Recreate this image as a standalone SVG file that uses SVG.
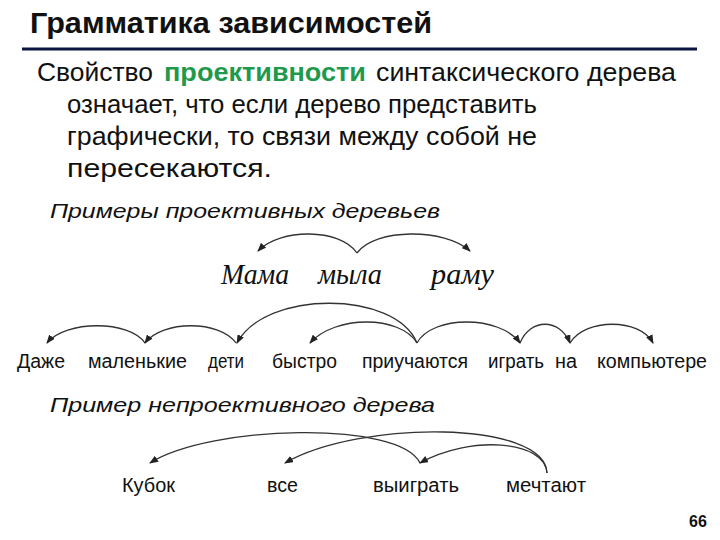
<svg xmlns="http://www.w3.org/2000/svg" width="720" height="540" viewBox="0 0 720 540">
<defs>
<style>
.t{font-family:"Liberation Sans",Arial,sans-serif;fill:#111}
.title{font-size:30px;font-weight:bold}
.para{font-size:25px}
.green{fill:#1f9a4c;font-weight:bold}
.ital{font-size:21px;font-style:italic}
.ser{font-family:"Liberation Serif","Times New Roman",serif;font-style:italic;font-size:30px;fill:#111}
.w{font-size:20px}
.arc{fill:none;stroke:#333;stroke-width:1.3;marker-end:url(#ah)}
</style>
<marker id="ah" markerUnits="userSpaceOnUse" markerWidth="9" markerHeight="7" refX="8" refY="3.5" orient="auto">
<path d="M0,0 L9,3.5 L0,7 z" fill="#222"/>
</marker>
</defs>
<rect width="720" height="540" fill="#fff"/>
<g id="header">
<text class="t title" x="30" y="33" textLength="402" lengthAdjust="spacingAndGlyphs">Грамматика зависимостей</text>
<line x1="22" y1="49" x2="697" y2="49" stroke="#0b1640" stroke-width="3"/>
</g>
<g id="paragraph">
<text class="t para" x="37" y="81" textLength="116" lengthAdjust="spacingAndGlyphs">Свойство</text>
<text class="t para green" x="164" y="81" textLength="202" lengthAdjust="spacingAndGlyphs">проективности</text>
<text class="t para" x="376" y="81" textLength="300" lengthAdjust="spacingAndGlyphs">синтаксического дерева</text>
<text class="t para" x="67" y="113" textLength="470" lengthAdjust="spacingAndGlyphs">означает, что если дерево представить</text>
<text class="t para" x="67" y="145" textLength="470" lengthAdjust="spacingAndGlyphs">графически, то связи между собой не</text>
<text class="t para" x="67" y="177" textLength="205" lengthAdjust="spacingAndGlyphs">пересекаются.</text>
</g>
<g id="heading-projective">
<text class="t ital" x="50" y="218" textLength="390" lengthAdjust="spacingAndGlyphs">Примеры проективных деревьев</text>
</g>
<g id="tree1">
<text class="ser" x="221" y="284" textLength="68" lengthAdjust="spacingAndGlyphs">Мама</text>
<text class="ser" x="318" y="284" textLength="64" lengthAdjust="spacingAndGlyphs">мыла</text>
<text class="ser" x="431" y="284" textLength="63" lengthAdjust="spacingAndGlyphs">раму</text>
</g>
<g id="tree2">
<text class="t w" x="17" y="368" textLength="48" lengthAdjust="spacingAndGlyphs">Даже</text>
<text class="t w" x="88" y="368" textLength="99" lengthAdjust="spacingAndGlyphs">маленькие</text>
<text class="t w" x="208" y="368" textLength="36" lengthAdjust="spacingAndGlyphs">дети</text>
<text class="t w" x="272" y="368" textLength="65" lengthAdjust="spacingAndGlyphs">быстро</text>
<text class="t w" x="362" y="368" textLength="106" lengthAdjust="spacingAndGlyphs">приучаются</text>
<text class="t w" x="488" y="368" textLength="56" lengthAdjust="spacingAndGlyphs">играть</text>
<text class="t w" x="555" y="368" textLength="22" lengthAdjust="spacingAndGlyphs">на</text>
<text class="t w" x="597" y="368" textLength="110" lengthAdjust="spacingAndGlyphs">компьютере</text>
</g>
<g id="heading-nonprojective">
<text class="t ital" x="50" y="412" textLength="385" lengthAdjust="spacingAndGlyphs">Пример непроективного дерева</text>
</g>
<g id="tree3">
<text class="t w" x="122" y="492" textLength="53" lengthAdjust="spacingAndGlyphs">Кубок</text>
<text class="t w" x="267" y="492" textLength="31" lengthAdjust="spacingAndGlyphs">все</text>
<text class="t w" x="373" y="492" textLength="86" lengthAdjust="spacingAndGlyphs">выиграть</text>
<text class="t w" x="506" y="492" textLength="80" lengthAdjust="spacingAndGlyphs">мечтают</text>
</g>
<g id="connectors">
<path class="arc" d="M357,253 C340,228 280,228 258,251"/>
<path class="arc" d="M357,253 C375,228 445,228 470,251"/>
<path class="arc" d="M145,343 C130,320 65,320 47,343"/>
<path class="arc" d="M236,343 C220,320 162,320 145,343"/>
<path class="arc" d="M417,343 C395,290 265,290 237,343"/>
<path class="arc" d="M417,343 C400,315 335,315 310,343"/>
<path class="arc" d="M417,343 C432,315 500,315 520,343"/>
<path class="arc" d="M520,343 C530,318 560,318 570,343"/>
<path class="arc" d="M570,343 C585,318 640,318 653,343"/>
<path class="arc" d="M420,463 C400,420 210,425 150,463"/>
<path class="arc" d="M547,473 C545,420 360,420 285,463"/>
<path class="arc" d="M547,473 C545,440 470,435 420,463"/>
</g>
<g id="page-number">
<text class="t" x="689" y="527" font-size="16" font-weight="bold">66</text>
</g>
</svg>
